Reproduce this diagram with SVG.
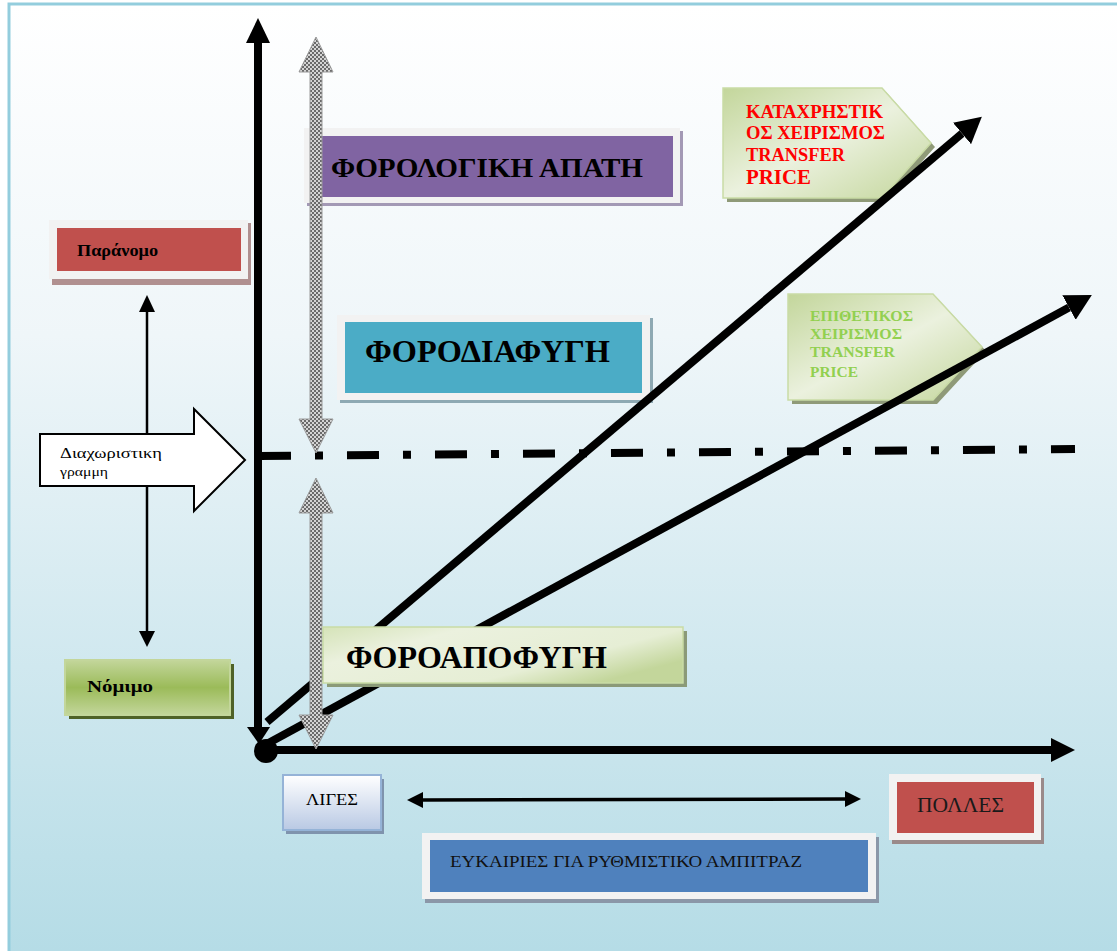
<svg xmlns="http://www.w3.org/2000/svg" width="1117" height="951" viewBox="0 0 1117 951">
<style>
.t{font-family:"Liberation Serif","Times New Roman",serif;}
.b{font-weight:bold;}
.ax{stroke:#000;stroke-width:8;fill:none;}
.frame{fill:#f2f2f2;}
.grey{fill:url(#chk);stroke:#9a9a9a;stroke-width:1;}
</style>
<defs>
<linearGradient id="bg" gradientUnits="userSpaceOnUse" x1="0" y1="4" x2="0" y2="951">
<stop offset="0" stop-color="#ffffff"/>
<stop offset="0.35" stop-color="#eff6f9"/>
<stop offset="0.7" stop-color="#d0e8ef"/>
<stop offset="1" stop-color="#b5dce6"/>
</linearGradient>
<linearGradient id="gl" x1="0" y1="0" x2="1" y2="0.6">
<stop offset="0" stop-color="#d5e3b8"/>
<stop offset="0.3" stop-color="#ebf1de"/>
<stop offset="0.75" stop-color="#e6eed5"/>
<stop offset="1" stop-color="#c3d69b"/>
</linearGradient>
<linearGradient id="pent" x1="0" y1="0" x2="1" y2="1">
<stop offset="0" stop-color="#c3d69b"/>
<stop offset="0.5" stop-color="#ebf1de"/>
<stop offset="1" stop-color="#c3d69b"/>
</linearGradient>
<linearGradient id="nom" x1="0" y1="0" x2="0" y2="1">
<stop offset="0" stop-color="#c3d69b"/>
<stop offset="0.5" stop-color="#9bbb59"/>
<stop offset="1" stop-color="#c3d69b"/>
</linearGradient>
<linearGradient id="lig" x1="0" y1="0" x2="0" y2="1">
<stop offset="0" stop-color="#ffffff"/>
<stop offset="1" stop-color="#b9c9e4"/>
</linearGradient>
<pattern id="chk" width="4" height="4" patternUnits="userSpaceOnUse">
<rect width="4" height="4" fill="#d4d4d4"/>
<rect width="2" height="2" fill="#6a6a6a"/>
<rect x="2" y="2" width="2" height="2" fill="#6a6a6a"/>
</pattern>
<marker id="ah" markerUnits="userSpaceOnUse" markerWidth="26" markerHeight="28" refX="0" refY="14" orient="auto">
<path d="M0,0 L26,14 L0,28 z" fill="#000"/>
</marker>
</defs>

<rect x="0" y="0" width="1117" height="951" fill="#ffffff"/>
<rect x="9" y="4" width="1120" height="960" fill="url(#bg)" stroke="#93cddd" stroke-width="3"/>

<g id="apati">
<rect x="307" y="131" width="376" height="75" fill="#a399b5"/>
<rect class="frame" x="304" y="128" width="376" height="75"/>
<rect x="320" y="136" width="353" height="61" fill="#8064a2"/>
<text class="t b" x="331" y="177" font-size="28" textLength="312" lengthAdjust="spacingAndGlyphs">ΦΟΡΟΛΟΓΙΚΗ ΑΠΑΤΗ</text>
</g>

<g id="diafygi">
<rect x="340" y="318" width="313" height="85" fill="#8ea9b3"/>
<rect class="frame" x="337" y="315" width="313" height="85"/>
<rect x="345" y="322" width="297" height="71" fill="#4bacc6"/>
<text class="t b" x="365" y="362" font-size="32" textLength="245" lengthAdjust="spacingAndGlyphs">ΦΟΡΟΔΙΑΦΥΓΗ</text>
</g>

<g id="kataxr">
<polygon points="727,92 886,92 935,147 886,202 727,202" fill="#8f9a78"/>
<polygon points="723,88 882,88 931,143 882,198 723,198" fill="url(#pent)" stroke="#c9dba5" stroke-width="1.5"/>
<g class="t b" fill="#ff0000">
<text x="746" y="118" font-size="18" textLength="137" lengthAdjust="spacingAndGlyphs">ΚΑΤΑΧΡΗΣΤΙΚ</text>
<text x="746" y="139" font-size="18" textLength="139" lengthAdjust="spacingAndGlyphs">ΟΣ ΧΕΙΡΙΣΜΟΣ</text>
<text x="746" y="161" font-size="18" textLength="99" lengthAdjust="spacingAndGlyphs">TRANSFER</text>
<text x="746" y="184" font-size="21" textLength="65" lengthAdjust="spacingAndGlyphs">PRICE</text>
</g>
</g>

<g id="epithet">
<polygon points="792,298 937,298 986,351 937,404 792,404" fill="#8f9a78"/>
<polygon points="788,294 933,294 982,347 933,400 788,400" fill="url(#pent)" stroke="#c9dba5" stroke-width="1.5"/>
<g class="t b" fill="#92d050">
<text x="810" y="321" font-size="15" textLength="103" lengthAdjust="spacingAndGlyphs">ΕΠΙΘΕΤΙΚΟΣ</text>
<text x="810" y="339" font-size="15" textLength="92" lengthAdjust="spacingAndGlyphs">ΧΕΙΡΙΣΜΟΣ</text>
<text x="810" y="357" font-size="15" textLength="85" lengthAdjust="spacingAndGlyphs">TRANSFER</text>
<text x="810" y="377" font-size="15" textLength="48" lengthAdjust="spacingAndGlyphs">PRICE</text>
</g>
</g>

<g id="paranomo">
<rect x="52" y="223" width="199" height="62" fill="#b09090"/>
<rect class="frame" x="49" y="220" width="199" height="59"/>
<rect x="57" y="228" width="184" height="43" fill="#c0504d"/>
<text class="t b" x="77" y="256" font-size="16" textLength="81" lengthAdjust="spacingAndGlyphs">Παράνομο</text>
</g>

<g id="nomimo">
<rect x="69" y="664" width="165" height="55" fill="#4f6228"/>
<rect x="65" y="660" width="165" height="55" fill="url(#nom)" stroke="#c3d69b" stroke-width="2"/>
<text class="t b" x="87" y="692" font-size="17" textLength="66" lengthAdjust="spacingAndGlyphs">Νόμιμο</text>
</g>

<g id="liges">
<rect x="286" y="779" width="98" height="55" fill="#7f93ad"/>
<rect x="283" y="775" width="98" height="55" fill="url(#lig)" stroke="#95b3d7" stroke-width="2"/>
<text class="t" x="306" y="805" font-size="17" textLength="52" lengthAdjust="spacingAndGlyphs">ΛΙΓΕΣ</text>
</g>

<g id="polles">
<rect x="892" y="778" width="152" height="66" fill="#9a8a8a"/>
<rect class="frame" x="889" y="774" width="152" height="66"/>
<rect x="897" y="782" width="137" height="51" fill="#c0504d"/>
<text class="t" x="917" y="812" font-size="20" fill="#1a1a1a" textLength="87" lengthAdjust="spacingAndGlyphs">ΠΟΛΛΕΣ</text>
</g>

<g id="eukairies">
<rect x="425" y="837" width="454" height="66" fill="#8b97a8"/>
<rect class="frame" x="422" y="833" width="454" height="66"/>
<rect x="430" y="840" width="438" height="52" fill="#4f81bd"/>
<text class="t" x="450" y="867" font-size="17" fill="#111" textLength="352" lengthAdjust="spacingAndGlyphs">ΕΥΚΑΙΡΙΕΣ ΓΙΑ ΡΥΘΜΙΣΤΙΚΟ ΑΜΠΙΤΡΑΖ</text>
</g>

<g id="connectors">
<line x1="259" y1="456" x2="1075" y2="449" stroke="#000" stroke-width="8" stroke-dasharray="32 24 8 24"/>
<line x1="267" y1="722" x2="962" y2="133.5" class="ax" marker-end="url(#ah)"/>
<line x1="263" y1="746" x2="1069" y2="307.5" class="ax" marker-end="url(#ah)"/>
<line x1="258" y1="40" x2="258" y2="728" class="ax"/>
<polygon points="258,18 270,43 246,43" fill="#000"/>
<polygon points="247,727 270,727 259,744" fill="#000"/>
<line x1="266" y1="750" x2="1052" y2="750" class="ax"/>
<polygon points="1051,738 1075,750 1051,762" fill="#000"/>
<circle cx="266" cy="751" r="12" fill="#000"/>
<polygon class="grey" points="316,37 333,72 322,72 322,419 333,419 316,453 299,419 310,419 310,72 299,72"/>
<polygon class="grey" points="316,478 333,513 322,513 322,715 333,715 316,749 299,715 310,715 310,513 299,513"/>
<line x1="147" y1="308" x2="147" y2="634" stroke="#000" stroke-width="2.5"/>
<polygon points="147,295 139,312 155,312" fill="#000"/>
<polygon points="147,647 139,631 155,631" fill="#000"/>
<line x1="421" y1="800" x2="847" y2="799" stroke="#000" stroke-width="3.5"/>
<polygon points="407,800 423,792 423,808" fill="#000"/>
<polygon points="861,799 845,791 845,807" fill="#000"/>
</g>

<g id="apofygi">
<rect x="327" y="631" width="360" height="56" fill="#8b9a78"/>
<rect x="323" y="627" width="360" height="56" fill="url(#gl)" stroke="#c9dba5" stroke-width="1.5"/>
<text class="t b" x="346" y="668" font-size="32" textLength="261" lengthAdjust="spacingAndGlyphs">ΦΟΡΟΑΠΟΦΥΓΗ</text>
</g>

<g id="diaxor">
<polygon points="40,434 194,434 194,409 245,460 194,511 194,486 40,486" fill="#ffffff" stroke="#000" stroke-width="2"/>
<text class="t" x="60" y="458" font-size="14" textLength="102" lengthAdjust="spacingAndGlyphs">Διαχωριστικη</text>
<text class="t" x="60" y="476" font-size="12" textLength="48" lengthAdjust="spacingAndGlyphs">γραμμη</text>
</g>
</svg>
